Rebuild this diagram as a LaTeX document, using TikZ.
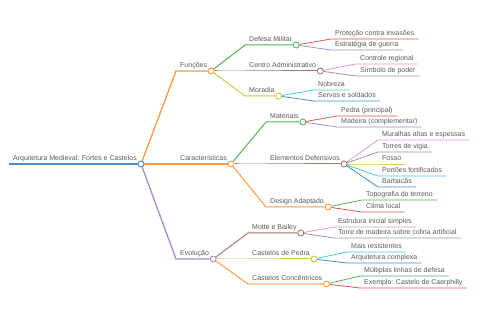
\documentclass[tikz,border=0pt]{standalone}
\usepackage{fontspec}
\setmainfont{Liberation Sans}
\usetikzlibrary{backgrounds,calc}

\definecolor{cblue}{HTML}{4A8FC4}
\definecolor{corange}{HTML}{FF9A40}
\definecolor{cgreen}{HTML}{55B355}
\definecolor{cred}{HTML}{DE5555}
\definecolor{cpurple}{HTML}{A68ACA}
\definecolor{cbrown}{HTML}{A3786F}
\definecolor{cpink}{HTML}{E995CE}
\definecolor{cgray}{HTML}{999999}
\definecolor{colive}{HTML}{C9CA4E}
\definecolor{ccyan}{HTML}{45CBD9}

\begin{document}
\begin{tikzpicture}[x=1pt, y=-1pt,
            topic/.style={anchor=south west, inner xsep=4pt, inner ysep=3.5pt, text depth=0pt,
                text=black!65, font=\fontsize{7}{8}\selectfont},
            dot/.style={circle, draw, fill=white, line width=0.9pt, minimum size=6pt, inner sep=0pt},
            link/.style={to path={.. controls ($(\tikztostart)!0.5!(\tikztotarget)$ |- \tikztostart)
                and ($(\tikztostart)!0.5!(\tikztotarget)$ |- \tikztotarget) .. (\tikztotarget)}},
            rootline/.style={line width=1.8pt},
            lvlone/.style={line width=1.3pt},
            lvltwo/.style={line width=1pt},
            leafline/.style={line width=0.8pt}
        ]
            \useasboundingbox (0,0) rectangle (480,320);

            % root
            \node[topic] (root) at (9,164) {Arquitetura Medieval: Fortes e Castelos};
            \node[dot, draw=cblue] (rootD) at (root.south east) {};

            % first level
            \node[topic] (fun) at (176,71) {Funções};
            \node[dot, draw=corange] (funD) at (fun.south east) {};
            \node[topic] (car) at (176,164) {Características};
            \node[dot, draw=corange] (carD) at (car.south east) {};
            \node[topic] (evo) at (176,259) {Evolução};
            \node[dot, draw=cpurple] (evoD) at (evo.south east) {};

            % second level: Funções
            \node[topic] (defesa) at (245,45) {Defesa Militar};
            \node[dot, draw=cgreen] (defesaD) at (defesa.south east) {};
            \node[topic] (centro) at (245,71) {Centro Administrativo};
            \node[dot, draw=cbrown] (centroD) at (centro.south east) {};
            \node[topic] (moradia) at (245,96) {Moradia};
            \node[dot, draw=colive] (moradiaD) at (moradia.south east) {};

            % second level: Características
            \node[topic] (mat) at (266,122) {Materiais};
            \node[dot, draw=cgreen] (matD) at (mat.south east) {};
            \node[topic] (elem) at (266,164) {Elementos Defensivos};
            \node[dot, draw=cbrown] (elemD) at (elem.south east) {};
            \node[topic] (design) at (266,207) {Design Adaptado};
            \node[dot, draw=corange] (designD) at (design.south east) {};

            % second level: Evolução
            \node[topic] (motte) at (248,233) {Motte e Bailey};
            \node[dot, draw=cbrown] (motteD) at (motte.south east) {};
            \node[topic] (pedra) at (248,259) {Castelos de Pedra};
            \node[dot, draw=colive] (pedraD) at (pedra.south east) {};
            \node[topic] (conc) at (248,284) {Castelos Concêntricos};
            \node[dot, draw=corange] (concD) at (conc.south east) {};

            % leaves
            \node[topic] (prot) at (331,39) {Proteção contra invasões};
            \node[topic] (estr) at (331,50) {Estratégia de guerra};
            \node[topic] (contr) at (356,64) {Controle regional};
            \node[topic] (simb) at (356,76) {Símbolo de poder};
            \node[topic] (nobr) at (314,90) {Nobreza};
            \node[topic] (serv) at (314,101) {Servos e soldados};
            \node[topic] (princ) at (337,116) {Pedra (principal)};
            \node[topic] (madei) at (337,127) {Madeira (complementar)};
            \node[topic] (mural) at (378,140) {Muralhas altas e espessas};
            \node[topic] (torres) at (378,152) {Torres de vigia};
            \node[topic] (fosso) at (378,164) {Fosso};
            \node[topic] (port) at (378,176) {Portões fortificados};
            \node[topic] (barb) at (378,187) {Barbacãs};
            \node[topic] (topo) at (362,200) {Topografia do terreno};
            \node[topic] (clima) at (362,212) {Clima local};
            \node[topic] (inic) at (334,227) {Estrutura inicial simples};
            \node[topic] (torre) at (334,238) {Torre de madeira sobre colina artificial};
            \node[topic] (resist) at (347,252) {Mais resistentes};
            \node[topic] (compl) at (347,263) {Arquitetura complexa};
            \node[topic] (mult) at (360,276) {Múltiplas linhas de defesa};
            \node[topic] (caer) at (360,288) {Exemplo: Castelo de Caerphilly};

            \begin{scope}[on background layer]
                % root line
                \draw[rootline, cblue] (root.south west) -- (rootD);

                % first level links
                \draw[lvlone, corange] (rootD) to[link] (fun.south west) -- (funD);
                \draw[lvlone, corange] (rootD) to[link] (car.south west) -- (carD);
                \draw[lvlone, cpurple] (rootD) to[link] (evo.south west) -- (evoD);

                % second level links
                \draw[lvltwo, cgreen] (funD) to[link] (defesa.south west) -- (defesaD);
                \draw[lvltwo, cbrown] (funD) to[link] (centro.south west) -- (centroD);
                \draw[lvltwo, colive] (funD) to[link] (moradia.south west) -- (moradiaD);
                \draw[lvltwo, cgreen] (carD) to[link] (mat.south west) -- (matD);
                \draw[lvltwo, cbrown] (carD) to[link] (elem.south west) -- (elemD);
                \draw[lvltwo, corange] (carD) to[link] (design.south west) -- (designD);
                \draw[lvltwo, cbrown] (evoD) to[link] (motte.south west) -- (motteD);
                \draw[lvltwo, colive] (evoD) to[link] (pedra.south west) -- (pedraD);
                \draw[lvltwo, corange] (evoD) to[link] (conc.south west) -- (concD);

                % leaf links
                \draw[leafline, cred] (defesaD) to[link] (prot.south west) -- (prot.south east);
                \draw[leafline, cpurple] (defesaD) to[link] (estr.south west) -- (estr.south east);
                \draw[leafline, cpink] (centroD) to[link] (contr.south west) -- (contr.south east);
                \draw[leafline, cgray] (centroD) to[link] (simb.south west) -- (simb.south east);
                \draw[leafline, ccyan] (moradiaD) to[link] (nobr.south west) -- (nobr.south east);
                \draw[leafline, cblue] (moradiaD) to[link] (serv.south west) -- (serv.south east);
                \draw[leafline, cred] (matD) to[link] (princ.south west) -- (princ.south east);
                \draw[leafline, cpurple] (matD) to[link] (madei.south west) -- (madei.south east);
                \draw[leafline, cpink] (elemD) to[link] (mural.south west) -- (mural.south east);
                \draw[leafline, cgray] (elemD) to[link] (torres.south west) -- (torres.south east);
                \draw[leafline, colive] (elemD) to[link] (fosso.south west) -- (fosso.south east);
                \draw[leafline, ccyan] (elemD) to[link] (port.south west) -- (port.south east);
                \draw[leafline, cblue] (elemD) to[link] (barb.south west) -- (barb.south east);
                \draw[leafline, cgreen] (designD) to[link] (topo.south west) -- (topo.south east);
                \draw[leafline, cred] (designD) to[link] (clima.south west) -- (clima.south east);
                \draw[leafline, cpink] (motteD) to[link] (inic.south west) -- (inic.south east);
                \draw[leafline, cgray] (motteD) to[link] (torre.south west) -- (torre.south east);
                \draw[leafline, ccyan] (pedraD) to[link] (resist.south west) -- (resist.south east);
                \draw[leafline, cblue] (pedraD) to[link] (compl.south west) -- (compl.south east);
                \draw[leafline, cgreen] (concD) to[link] (mult.south west) -- (mult.south east);
                \draw[leafline, cred] (concD) to[link] (caer.south west) -- (caer.south east);
            \end{scope}
        \end{tikzpicture}
\end{document}
